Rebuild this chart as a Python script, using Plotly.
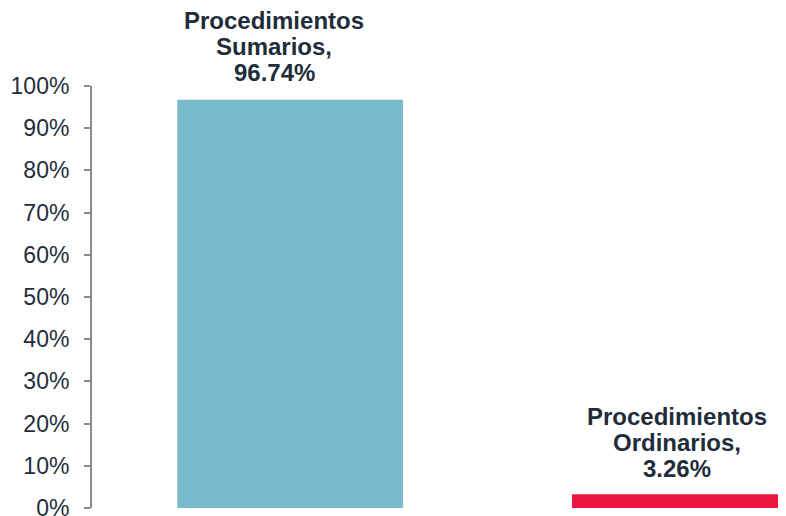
import plotly.graph_objects as go

categories = ["Procedimientos Sumarios", "Procedimientos Ordinarios"]
label_lines = [["Procedimientos", "Sumarios,"], ["Procedimientos", "Ordinarios,"]]
values = [96.74, 3.26]
colors = ["#79BACB", "#EA1640"]
tick_vals = [0, 10, 20, 30, 40, 50, 60, 70, 80, 90, 100]
tick_text = [f"{v}%" for v in tick_vals]

fig = go.Figure()
fig.add_trace(go.Bar(
    x=list(range(len(categories))),
    y=values,
    width=0.572,
    marker=dict(color=colors, line=dict(width=0)),
    hovertext=categories,
    showlegend=False,
))

txt_color = "#1F2D3A"
fsize = 24
line_gap = 26
xshifts = [-16, -8]
yshifts = [12, 10]
for i, (lines, v) in enumerate(zip(label_lines, values)):
    all_lines = lines + [f"{v:.2f}%"]
    n = len(all_lines)
    for j, t in enumerate(all_lines):
        fig.add_annotation(
            x=i, y=v, xref="x", yref="y",
            text=f"<b>{t}</b>", showarrow=False,
            yanchor="bottom", xanchor="center",
            xshift=xshifts[i],
            yshift=yshifts[i] + (n - 1 - j) * line_gap,
            font=dict(family="Liberation Sans, Arial, sans-serif", size=fsize, color=txt_color),
        )

fig.update_layout(
    width=778, height=508,
    margin=dict(l=84, r=0, t=78, b=8, autoexpand=False),
    paper_bgcolor="white", plot_bgcolor="white",
    font=dict(family="Liberation Sans, Arial, sans-serif", color=txt_color),
    xaxis=dict(range=[-0.502, 1.256], showticklabels=False, showgrid=False,
               zeroline=False, showline=False, ticks="", automargin=False),
    yaxis=dict(range=[0, 100], tickvals=tick_vals, ticktext=tick_text,
               showgrid=False, zeroline=False, showline=True, linecolor="#868B8E",
               linewidth=2, ticks="outside", ticklen=6, tickcolor="#868B8E", tickwidth=2,
               tickfont=dict(size=23, color=txt_color), ticklabelstandoff=10,
               ticklabeloverflow="allow", automargin=False),
)

fig.write_html("out.html")
